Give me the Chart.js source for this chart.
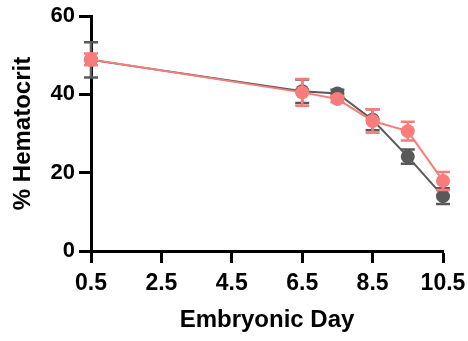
<!DOCTYPE html>
<html>
<head>
<meta charset="utf-8">
<script src="https://cdn.jsdelivr.net/npm/chart.js@4"></script>
<style>
  html, body { margin: 0; padding: 0; background: #fff; }
  #wrap { width: 468px; height: 341px; }
</style>
</head>
<body>
<div id="wrap"><canvas id="hct"></canvas></div>
<script>
// data
var days = [0.5, 6.5, 7.5, 8.5, 9.5, 10.5];
var xTicks = [0.5, 2.5, 4.5, 6.5, 8.5, 10.5];
var greyMean = [48.8, 40.8, 40.2, 33.5, 24.1, 14.0];
var greyErr = [4.5, 3.0, 1.0, 2.7, 1.8, 2.0];
var pinkMean = [48.9, 40.5, 38.8, 33.2, 30.6, 17.9];
var pinkErr = [1.5, 3.4, 0.8, 3.0, 2.4, 2.3];

var grey = '#595959';
var pink = '#F87C7C';

function toPoints(xs, ys) {
  return xs.map(function(x, i) { return {x: x, y: ys[i]}; });
}

// error bars drawn just before each dataset, using the chart's scales
var errorBars = {
  id: 'errorBars',
  beforeDatasetDraw: function(chart, args) {
    var ds = chart.data.datasets[args.index];
    if (!ds.errors) return;
    var xs = chart.scales.x, ys = chart.scales.y;
    var ctx = chart.ctx;
    ctx.save();
    ctx.strokeStyle = ds.borderColor;
    ctx.lineWidth = 2.5;
    ds.data.forEach(function(p, i) {
      var e = ds.errors[i];
      var px = xs.getPixelForValue(p.x);
      var top = ys.getPixelForValue(p.y + e);
      var bot = ys.getPixelForValue(p.y - e);
      ctx.beginPath();
      ctx.moveTo(px, top); ctx.lineTo(px, bot);
      ctx.moveTo(px - 7, top); ctx.lineTo(px + 7, top);
      ctx.moveTo(px - 7, bot); ctx.lineTo(px + 7, bot);
      ctx.stroke();
    });
    ctx.restore();
  }
};

var font = "'Liberation Sans', Arial, sans-serif";

new Chart(document.getElementById('hct'), {
  type: 'line',
  data: {
    datasets: [{
      label: 'pink',
      data: toPoints(days, pinkMean),
      errors: pinkErr,
      borderColor: pink,
      backgroundColor: pink,
      borderWidth: 2,
      pointRadius: 7,
      pointBorderWidth: 0,
      clip: false
    }, {
      label: 'grey',
      data: toPoints(days, greyMean),
      errors: greyErr,
      borderColor: grey,
      backgroundColor: grey,
      borderWidth: 2,
      pointRadius: 7,
      pointBorderWidth: 0,
      clip: false
    }]
  },
  options: {
    responsive: true,
    maintainAspectRatio: false,
    animation: false,
    layout: { padding: { top: 16, right: 25, left: 0, bottom: 0 } },
    plugins: { legend: { display: false }, tooltip: { enabled: false } },
    scales: {
      x: {
        type: 'linear',
        min: 0.5,
        max: 10.5,
        afterBuildTicks: function(scale) {
          scale.ticks = xTicks.map(function(v) { return {value: v}; });
        },
        afterFit: function(scale) {
          scale.height = 90;
          scale.paddingLeft = 0;
          scale.paddingRight = 0;
        },
        border: { color: '#000', width: 3 },
        grid: { drawOnChartArea: false, tickLength: 12, tickWidth: 3, tickColor: '#000' },
        ticks: {
          color: '#000',
          padding: 7,
          maxRotation: 0,
          font: { family: font, size: 23, weight: 'bold' },
          callback: function(v) { return v.toFixed(1); }
        },
        title: {
          display: true,
          text: 'Embryonic Day',
          color: '#000',
          padding: { top: 0, bottom: 6 },
          font: { family: font, size: 24, weight: 'bold' }
        }
      },
      y: {
        min: 0,
        max: 60,
        afterFit: function(scale) {
          scale.width = 91;
          scale.paddingTop = 0;
          scale.paddingBottom = 0;
        },
        border: { color: '#000', width: 3 },
        grid: { drawOnChartArea: false, tickLength: 12, tickWidth: 3, tickColor: '#000' },
        ticks: {
          stepSize: 20,
          color: '#000',
          padding: 4,
          font: { family: font, size: 22, weight: 'bold' }
        },
        title: {
          display: true,
          text: '% Hematocrit',
          color: '#000',
          padding: { top: 9, bottom: 0 },
          font: { family: font, size: 24, weight: 'bold' }
        }
      }
    }
  },
  plugins: [errorBars]
});
</script>
</body>
</html>
